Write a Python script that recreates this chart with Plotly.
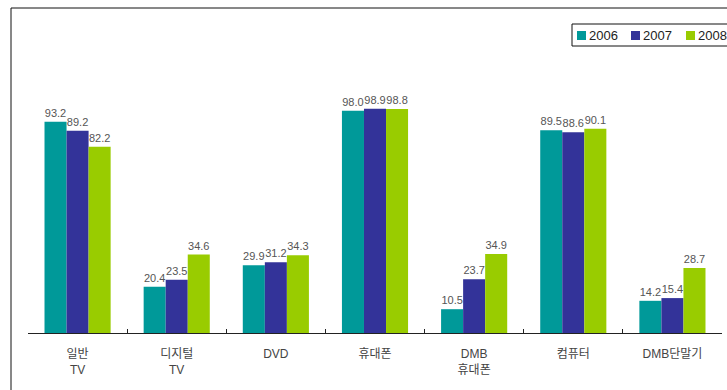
import plotly.graph_objects as go

categories = ["일반<br>TV", "디지털<br>TV", "DVD", "휴대폰", "DMB<br>휴대폰", "컴퓨터", "DMB단말기"]
series_names = ["2006", "2007", "2008"]
values_2006 = [93.2, 20.4, 29.9, 98.0, 10.5, 89.5, 14.2]
values_2007 = [89.2, 23.5, 31.2, 98.9, 23.7, 88.6, 15.4]
values_2008 = [82.2, 34.6, 34.3, 98.8, 34.9, 90.1, 28.7]
colors = ["#009999", "#333399", "#99cc00"]

W, H = 727, 390
ML, MR, MT, MB = 28, 5, 95, 57
PW, PH = W - ML - MR, H - MT - MB
FONT = "Liberation Sans, Arial, Noto Sans CJK KR, sans-serif"


def px(x):
    return (x - ML) / PW


def py(y):
    return (H - MB - y) / PH


fig = go.Figure()
for name, vals, col in zip(series_names, [values_2006, values_2007, values_2008], colors):
    fig.add_trace(go.Bar(
        x=categories, y=vals, name=name, marker=dict(color=col, line=dict(width=0)),
        text=[f"{v:.1f}" for v in vals], textposition="outside",
        textfont=dict(size=11, color="#555555", family=FONT),
        cliponaxis=False, constraintext="none", showlegend=False,
    ))

shapes = []
annotations = []
# outer frame (extends past the picture on the right and bottom)
shapes.append(dict(type="rect", xref="paper", yref="paper",
                   x0=px(11), x1=px(740), y0=py(400), y1=py(8),
                   line=dict(color="#111111", width=1), fillcolor="rgba(0,0,0,0)"))
# legend box
shapes.append(dict(type="rect", xref="paper", yref="paper",
                   x0=px(572), x1=px(740), y0=py(46), y1=py(24),
                   line=dict(color="#111111", width=1), fillcolor="rgba(0,0,0,0)"))
leg_sq_x = [577, 631, 686]
for i, (name, col) in enumerate(zip(series_names, colors)):
    x0 = leg_sq_x[i]
    shapes.append(dict(type="rect", xref="paper", yref="paper",
                       x0=px(x0), x1=px(x0 + 9), y0=py(40), y1=py(31),
                       line=dict(width=0), fillcolor=col))
    annotations.append(dict(xref="paper", yref="paper", x=px(x0 + 10), y=py(35.5),
                            text=name, showarrow=False, xanchor="left", yanchor="middle",
                            font=dict(size=13, color="#222222", family=FONT)))

fig.update_layout(
    width=W, height=H,
    margin=dict(l=ML, r=MR, t=MT, b=MB, autoexpand=False),
    paper_bgcolor="white", plot_bgcolor="white",
    barmode="group", bargap=0.333, bargroupgap=0,
    shapes=shapes, annotations=annotations,
    xaxis=dict(
        type="category", range=[-0.5, 6.5], showline=True, linecolor="#222222", linewidth=1,
        ticks="inside", tickson="boundaries", ticklen=4, tickcolor="#222222",
        tickfont=dict(size=12, color="#444444", family=FONT), ticklabelstandoff=10,
        showgrid=False, fixedrange=True,
    ),
    yaxis=dict(range=[0, 105], visible=False, showgrid=False, zeroline=False),
    showlegend=False,
)

fig.write_html("out.html")
